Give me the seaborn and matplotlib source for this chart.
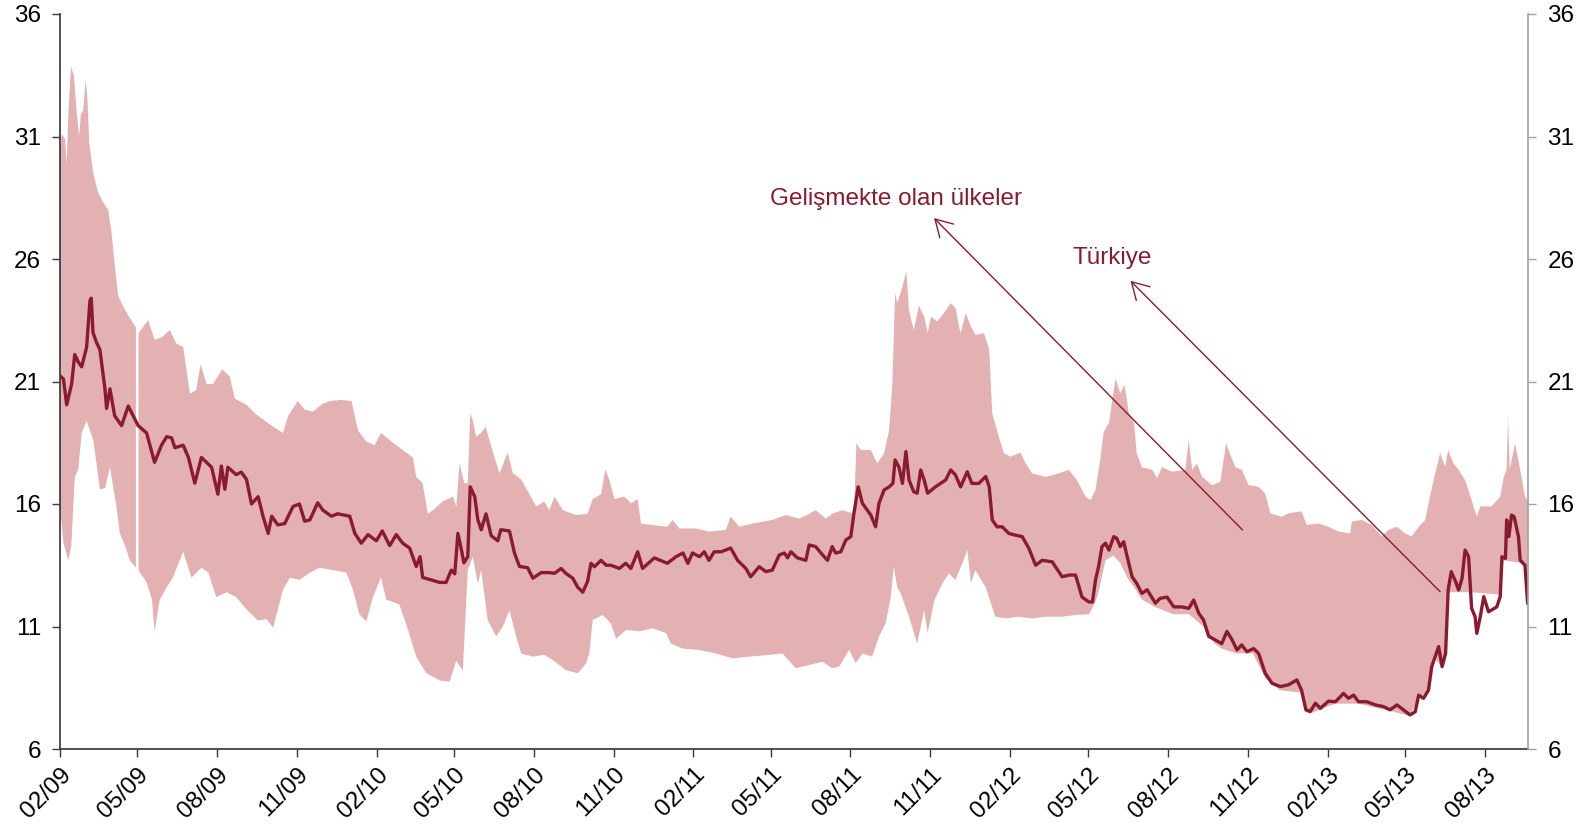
import numpy as np
import pandas as pd
import matplotlib
matplotlib.use("Agg")
import matplotlib.pyplot as plt
import matplotlib.dates as mdates
import seaborn as sns

# ---------------- data (day offsets from 2009-02-01) ----------------
START = pd.Timestamp("2009-02-01")

turkey_day = [0, 4, 7.7, 13.4, 17, 21, 25, 30.7, 34.5, 36, 38, 42, 46, 51.8, 53.7, 57.6, 63, 71, 78.7, 84.4,
              90, 99.8, 109, 117, 123, 128.6, 132.4, 142, 148, 155.4, 163, 174.7, 182, 186, 190, 193.4, 203,
              209, 215, 220.7, 228.4, 234, 240, 244, 251, 259, 268.6, 276, 282, 288, 297, 303, 312.8, 320,
              334, 339.8, 347.3, 355, 364.6, 371.5, 380, 387.6, 395, 403, 410.6, 415, 418, 428, 437.5, 445,
              451, 455, 458.6, 462, 465.5, 470, 472.8, 478, 481.6, 485.5, 491, 497, 504.6, 508, 518, 523.8,
              529.6, 539, 545, 554.6, 564, 570, 577.6, 583, 591, 596.8, 602.5, 608, 612, 616, 623.6, 629.5,
              635, 644.7, 652, 658, 665.8, 671.5, 685, 700, 710, 718, 723.7, 729, 737, 742.6, 748, 754, 762,
              773, 781, 790.5, 796, 806, 813.5, 821, 829, 835, 838.6, 842.4, 850, 859.6, 863.5, 871, 877,
              884.6, 890, 894, 900, 905.7, 911.5, 915, 920, 924.8, 930.5, 934.5, 940, 944, 949.8, 955.6, 960,
              962.5, 967, 971, 975, 978.6, 984, 988, 992, 996, 1000, 1009, 1015, 1020.8, 1026.6, 1032, 1038,
              1045.7, 1051, 1059, 1067, 1071, 1074.5, 1080, 1086, 1093.6, 1101, 1109, 1116.7, 1124.5, 1132,
              1143.6, 1155, 1163, 1170.5, 1178, 1186, 1190, 1193.5, 1197, 1201, 1205, 1209, 1214.6, 1218,
              1222, 1226, 1230, 1235.7, 1241, 1247, 1253, 1262.6, 1268, 1276, 1283.7, 1293, 1301, 1306.7,
              1312.5, 1318, 1324, 1331.6, 1339, 1345, 1351, 1356.6, 1362, 1368, 1375.8, 1381.5, 1389, 1397,
              1406.5, 1416, 1425.6, 1431, 1436, 1441, 1447, 1452.6, 1462, 1470, 1479.4, 1485, 1491, 1496.7,
              1506.3, 1516, 1525.4, 1533, 1541, 1548.4, 1556, 1562, 1566, 1571.6, 1577.3, 1581, 1585, 1589,
              1593, 1597, 1600, 1603.5, 1608.6, 1612, 1616, 1619.5, 1623.5, 1627, 1631, 1633, 1637, 1641,
              1646.5, 1656, 1660, 1662, 1666, 1667.4, 1670, 1673, 1676, 1681, 1683, 1688.5, 1691.6]
turkey_val = [21.23, 21.1, 20.05, 20.9, 22.1, 21.8, 21.6, 22.4, 24.3, 24.4, 23.0, 22.6, 22.3, 20.7, 19.9, 20.7,
              19.6, 19.2, 20.0, 19.6, 19.2, 18.9, 17.7, 18.4, 18.75, 18.7, 18.3, 18.4, 17.9, 16.85, 17.9, 17.5,
              16.4, 17.55, 16.6, 17.5, 17.2, 17.3, 17.0, 16.0, 16.3, 15.5, 14.8, 15.5, 15.15, 15.2, 15.9, 16.0,
              15.3, 15.35, 16.05, 15.75, 15.5, 15.6, 15.5, 14.8, 14.4, 14.75, 14.5, 14.9, 14.3, 14.75, 14.4,
              14.2, 13.45, 13.85, 13.0, 12.9, 12.8, 12.8, 13.3, 13.15, 14.8, 14.25, 13.6, 13.85, 16.7, 16.3,
              15.35, 14.95, 15.6, 14.7, 14.5, 14.95, 14.9, 14.0, 13.45, 13.4, 12.97, 13.2, 13.2, 13.17, 13.37,
              13.17, 12.97, 12.6, 12.4, 12.83, 13.58, 13.44, 13.7, 13.5, 13.5, 13.37, 13.58, 13.37, 14.05,
              13.37, 13.8, 13.58, 13.85, 14.0, 13.58, 14.0, 13.85, 14.05, 13.7, 14.05, 14.05, 14.2, 13.7,
              13.37, 13.03, 13.44, 13.24, 13.3, 13.92, 14.0, 13.8, 14.05, 13.8, 13.7, 14.33, 14.26, 14.0, 13.7,
              14.26, 14.0, 14.05, 14.53, 14.67, 15.6, 16.7, 16.03, 15.75, 15.55, 15.07, 16.03, 16.57, 16.7,
              16.84, 17.8, 17.5, 16.84, 18.14, 16.98, 16.5, 16.44, 17.39, 16.98, 16.44, 16.7, 16.84, 16.98,
              17.39, 17.19, 16.7, 17.32, 16.84, 16.84, 17.12, 16.7, 15.35, 15.07, 15.07, 14.8, 14.73, 14.67,
              14.19, 13.5, 13.7, 13.64, 13.03, 13.1, 13.1, 12.2, 12.0, 12.0, 12.9, 13.44, 14.26, 14.4, 14.12,
              14.67, 14.6, 14.26, 14.46, 13.85, 13.03, 12.76, 12.35, 12.5, 11.95, 12.15, 12.2, 11.8, 11.8,
              11.74, 12.08, 11.54, 11.27, 10.6, 10.45, 10.3, 10.8, 10.45, 10.04, 10.25, 9.97, 10.1, 9.9, 9.1,
              8.68, 8.55, 8.62, 8.82, 8.4, 7.6, 7.53, 7.87, 7.66, 7.95, 7.93, 8.27, 8.07, 8.2, 7.93, 7.93, 7.8,
              7.73, 7.6, 7.8, 7.6, 7.39, 7.52, 8.2, 8.07, 8.4, 9.36, 9.77, 10.18, 9.36, 9.9, 12.49, 13.24,
              12.83, 12.49, 12.97, 14.12, 13.85, 11.74, 11.4, 10.72, 11.4, 12.22, 11.6, 11.8, 12.22, 13.85,
              13.78, 15.35, 14.67, 15.55, 15.48, 14.67, 13.71, 13.5, 11.94]

# emerging-market range: upper edge (NaN marks the data gap near 05/09)
upper_day = [0, 2, 5.8, 7.7, 10, 12.7, 16, 19, 21.9, 24, 26.9, 29.5, 31.5, 33.8, 38.4, 44, 50, 55.6, 59.5,
             63.3, 67, 73, 78.6, 87.5, 89, 90.5, 101.7, 109, 117, 126.6, 134, 142, 149.7, 157, 162, 169, 176.5,
             187, 195.7, 201.5, 215, 224.5, 243.7, 257, 263, 274, 282, 291.6, 303, 311, 324, 336, 343.5, 353,
             362.7, 370, 383.7, 399, 406.8, 410.6, 418, 424, 430, 441, 452.8, 456.7, 460.5, 466, 470, 472.8,
             475.8, 479.7, 485.5, 490.5, 497, 506.6, 516, 522, 531.5, 541, 549, 558, 564, 570, 579.5, 594.8,
             608, 614, 623.6, 628.6, 633, 639, 650.5, 658, 665.8, 669.7, 683, 700, 706, 713.8, 733, 748,
             767.5, 773, 783, 798, 821, 836.6, 852, 863.5, 871, 882.7, 890, 901.8, 915, 918, 923, 934.5, 942,
             949.8, 955.6, 959.4, 962.5, 965, 971, 975.5, 978.6, 984, 990, 996, 1000, 1004, 1011, 1019,
             1026.6, 1032, 1038, 1044, 1050, 1055, 1065, 1071, 1074.5, 1082, 1088, 1095.6, 1107, 1113,
             1120.5, 1136, 1151, 1163, 1172, 1182, 1188, 1193.5, 1199, 1203, 1209, 1214.6, 1216.5, 1222,
             1227, 1232, 1238, 1241, 1247, 1258.7, 1264.5, 1270, 1281.7, 1297, 1301, 1305, 1310.5, 1316,
             1327.8, 1337.4, 1344, 1349, 1354.7, 1362, 1370, 1381.5, 1389, 1395, 1408, 1416, 1431, 1437,
             1450.6, 1462, 1474, 1487, 1489, 1500.5, 1512, 1523.5, 1531, 1541, 1550.4, 1558, 1566, 1573.5,
             1579, 1585, 1590.7, 1596.5, 1600, 1606, 1612, 1619.5, 1627, 1633, 1637, 1650, 1660, 1664,
             1667.4, 1669, 1671, 1677, 1683, 1688.5, 1691.6]
upper_val = [30.5, 31.1, 30.9, 29.9, 32.2, 33.85, 33.5, 32.1, 31.0, 31.9, 32.1, 33.3, 32.6, 30.7, 29.5, 28.7,
             28.3, 28.0, 27.05, 25.7, 24.5, 24.05, 23.7, 23.2, np.nan, 22.97, 23.5, 22.7, 22.8, 23.1, 22.55,
             22.4, 20.5, 20.65, 21.7, 20.9, 20.9, 21.5, 21.2, 20.3, 20.05, 19.7, 19.2, 18.9, 19.6, 20.2,
             19.85, 19.77, 20.1, 20.2, 20.25, 20.2, 19.0, 18.55, 18.4, 18.9, 18.5, 18.1, 17.9, 17.1, 16.85,
             15.6, 15.75, 16.1, 16.3, 15.9, 17.65, 16.85, 16.85, 19.7, 19.4, 18.75, 18.9, 19.15, 18.35,
             17.25, 18.1, 17.25, 17.0, 16.4, 15.9, 16.1, 15.75, 16.3, 15.75, 15.55, 15.6, 16.2, 16.4, 17.4,
             17.0, 16.2, 16.3, 16.03, 16.2, 15.2, 15.14, 15.07, 15.35, 15.0, 15.0, 14.87, 14.94, 15.48, 15.07,
             15.2, 15.35, 15.55, 15.4, 15.6, 15.75, 15.4, 15.6, 15.75, 15.6, 18.48, 18.2, 18.2, 17.66, 18.07,
             19.0, 20.9, 24.6, 24.2, 24.87, 25.5, 23.9, 23.1, 24.1, 23.65, 23.0, 23.65, 23.45, 23.8, 24.2,
             24.0, 22.97, 23.8, 23.24, 22.9, 22.97, 22.3, 19.7, 18.75, 18.07, 17.93, 18.1, 17.66, 17.25,
             17.1, 17.25, 17.39, 16.98, 16.3, 16.16, 16.57, 17.8, 18.95, 19.3, 20.65, 21.13, 20.52, 20.86,
             19.7, 19.3, 18.07, 17.5, 17.4, 17.05, 17.5, 17.32, 17.39, 18.6, 17.39, 17.66, 17.12, 16.77,
             16.9, 18.48, 18.0, 17.5, 17.4, 16.77, 16.7, 16.43, 15.62, 15.48, 15.62, 15.7, 15.14, 15.2,
             15.07, 14.87, 14.8, 15.28, 15.35, 15.14, 14.67, 14.94, 15.07, 14.8, 14.67, 15.07, 15.35, 16.3,
             17.25, 18.07, 17.52, 18.2, 17.66, 17.39, 16.98, 16.16, 15.48, 15.9, 15.9, 16.3, 17.1, 17.4,
             19.56, 17.4, 18.48, 17.4, 16.3, 16.16]

lower_day = [0, 4, 9.6, 13, 17, 21, 25, 30.7, 38.4, 46, 52, 57.6, 65, 69, 75, 80.6, 87.5, 89, 90.5, 99.8, 106,
             109, 115, 123, 130, 142, 151.6, 163, 171, 180, 192, 203, 215, 228, 238, 245.6, 257, 265, 276,
             288, 299, 315, 330, 337.7, 345, 353, 360.7, 370, 376, 391, 399, 410.6, 422, 437.5, 449, 456.7,
             464.3, 470, 475.8, 481.6, 485.5, 493, 502.7, 510.4, 518, 525.8, 531.5, 545, 558, 568, 583,
             596.8, 606.4, 610, 614, 625.5, 635, 641, 652.4, 667.7, 683, 698.5, 704, 717.6, 736.8, 756, 775,
             794, 817, 832.7, 848, 863.5, 878.8, 890, 898, 909.6, 917, 925, 936, 944, 951.7, 957.5, 961, 965,
             969, 978.6, 988, 996, 1000, 1008, 1017, 1024.6, 1032, 1040, 1045.7, 1050, 1055, 1067, 1078,
             1090, 1105, 1120.5, 1136, 1155, 1170.5, 1186, 1193.5, 1197, 1205, 1214, 1222, 1230, 1238, 1247,
             1262, 1283, 1301, 1318, 1331, 1339, 1356, 1375, 1389, 1406, 1431, 1436, 1441, 1452, 1470, 1496,
             1533, 1556, 1566, 1577, 1585, 1593, 1597, 1600, 1612, 1627, 1660, 1664, 1683, 1691.6]
lower_val = [15.9, 14.4, 13.7, 14.3, 17.1, 17.4, 18.9, 19.4, 18.6, 16.6, 16.65, 17.5, 15.9, 14.8, 14.3, 13.7,
             13.4, np.nan, 13.3, 12.8, 12.1, 10.8, 12.1, 12.6, 13.0, 14.05, 13.0, 13.4, 13.2, 12.2, 12.4,
             12.2, 11.7, 11.25, 11.3, 10.95, 12.5, 13.0, 12.9, 13.2, 13.4, 13.3, 13.2, 12.5, 11.5, 11.2,
             12.2, 13.0, 12.1, 11.9, 11.1, 9.77, 9.1, 8.8, 8.75, 9.6, 9.2, 13.3, 13.85, 12.76, 13.3, 11.26,
             10.6, 11.0, 11.66, 10.6, 9.9, 9.77, 9.85, 9.63, 9.22, 9.09, 9.5, 9.9, 11.27, 11.47, 11.13, 10.5,
             10.86, 10.8, 10.93, 10.73, 10.3, 10.1, 10.04, 9.9, 9.7, 9.77, 9.84, 9.9, 9.3, 9.43, 9.56, 9.3,
             9.36, 10.05, 9.5, 9.9, 9.77, 10.6, 11.13, 12.2, 13.44, 12.6, 12.35, 11.4, 10.3, 11.67, 10.73,
             12.1, 12.76, 13.17, 12.9, 13.58, 14.12, 12.76, 13.3, 12.6, 11.4, 11.33, 11.4, 11.33, 11.4, 11.4,
             11.47, 11.5, 12.0, 12.4, 13.7, 13.9, 13.6, 13.0, 12.6, 12.1, 11.8, 11.5, 11.5, 11.0, 10.3, 10.1,
             9.9, 9.9, 8.9, 8.4, 8.3, 7.5, 7.45, 7.6, 7.85, 7.85, 7.55, 7.35, 8.1, 8.3, 9.7, 9.3, 9.8, 12.4,
             12.4, 12.4, 12.3, 13.7, 13.6, 13.4]

y_ticks = [6, 11, 16, 21, 26, 31, 36]
label_em = "Gelişmekte olan ülkeler"
label_tr = "Türkiye"

# ---------------- style ----------------
LINE = "#8A1B2E"
BAND = "#E3B1B1"
FS = 17.5
sns.set_theme(style="ticks")
plt.rcParams["font.family"] = ["Liberation Sans", "DejaVu Sans"]


def to_dates(days):
    return START + pd.to_timedelta(np.asarray(days, dtype=float), unit="D")


def segments(days, vals):
    d = np.asarray(days, float)
    v = np.asarray(vals, float)
    cut = np.where(np.isnan(v))[0]
    bounds = [-1] + list(cut) + [len(v)]
    return [(d[a + 1:b], v[a + 1:b]) for a, b in zip(bounds[:-1], bounds[1:])]


fig = plt.figure(figsize=(15.93, 8.25), dpi=100)
ax = fig.add_axes([60 / 1593, 1 - 749 / 825, (1528 - 60) / 1593, (749 - 14) / 825])

# band: one polygon per segment between gaps
for (ud, uv), (ld, lv) in zip(segments(upper_day, upper_val), segments(lower_day, lower_val)):
    xs = np.concatenate([mdates.date2num(to_dates(ud)), mdates.date2num(to_dates(ld))[::-1]])
    ys = np.concatenate([uv, lv[::-1]])
    ax.fill(xs, ys, color=BAND, lw=0, zorder=1)

df = pd.DataFrame({"date": to_dates(turkey_day), "value": turkey_val})
sns.lineplot(data=df, x="date", y="value", ax=ax, color=LINE, lw=2.4, zorder=3)

ax.set_xlim(to_dates([0])[0], to_dates([1692])[0])
ax.set_ylim(6, 36)
ax.set_yticks(y_ticks)
ax.set_xlabel("")
ax.set_ylabel("")
ax.xaxis.set_major_locator(mdates.MonthLocator(bymonth=[2, 5, 8, 11]))
ax.xaxis.set_major_formatter(mdates.DateFormatter("%m/%y"))
for lab in ax.get_xticklabels():
    lab.set_rotation(45)
    lab.set_ha("right")
    lab.set_rotation_mode("anchor")

dark = "#3a3a3a"
grey = "#a0a0a0"
for s in ["top", "right"]:
    ax.spines[s].set_visible(False)
ax.spines["left"].set_color(dark)
ax.spines["bottom"].set_color(dark)
ax.tick_params(axis="x", labelsize=FS, colors=dark, labelcolor="black", length=5.5, width=1,
               direction="out", pad=5)
ax.tick_params(axis="y", labelsize=FS, colors=dark, labelcolor="black", length=5.5, width=1,
               direction="out", pad=8)

ax2 = ax.twinx()
ax2.set_ylim(6, 36)
ax2.set_yticks(y_ticks)
for s in ["top", "left", "bottom"]:
    ax2.spines[s].set_visible(False)
ax2.spines["right"].set_color(grey)
ax2.spines["right"].set_linewidth(1.2)
ax2.tick_params(axis="y", labelsize=FS, colors=grey, labelcolor="black", length=6, width=1, pad=8)

# annotations
arrow_kw = dict(arrowstyle="->,head_length=0.6,head_width=0.35", color=LINE, lw=1.0,
                mutation_scale=20, shrinkA=0, shrinkB=0)
d = mdates.date2num(to_dates([1007.4, 1363, 1233.8, 1590.7, 963.6, 1212.7]))
ax.annotate("", xy=(d[0], 27.67), xytext=(d[1], 14.94), arrowprops=arrow_kw, zorder=4)
ax.annotate("", xy=(d[2], 25.11), xytext=(d[3], 12.42), arrowprops=arrow_kw, zorder=4)
ax.text(d[4], 28.45, label_em, color=LINE, fontsize=FS, ha="center", va="center", zorder=5)
ax.text(d[5], 26.04, label_tr, color=LINE, fontsize=FS, ha="center", va="center", zorder=5)

fig.savefig("out.png", dpi=100)
